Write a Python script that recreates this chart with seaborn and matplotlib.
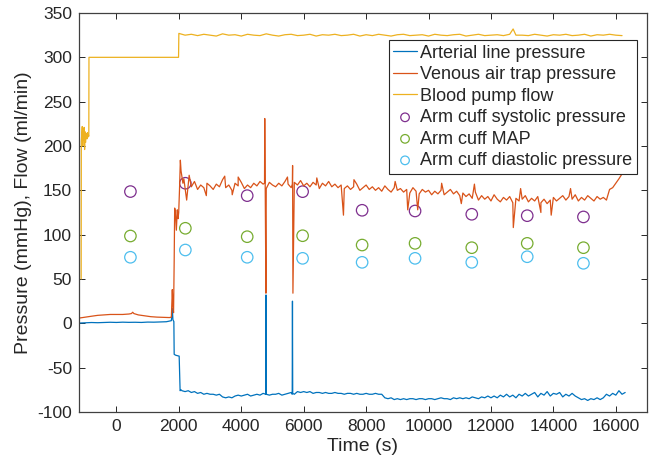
import numpy as np
import pandas as pd
import matplotlib
matplotlib.use("Agg")
import matplotlib.pyplot as plt
import seaborn as sns

# ---- arterial line pressure (mmHg), start-up part ----
art_t0 = [-1180, -1000, -800, -600, -400, -200, 0, 200, 400, 600, 800, 1000, 1200,
          1400, 1600, 1700, 1760, 1790, 1810, 1840, 1850, 1900, 1960, 2010, 2040, 2070]
art_v0 = [0.3, 0.6, 0.9, 0.7, 1.0, 1.2, 1.0, 1.3, 1.1, 1.2, 1.0, 1.4, 1.3,
          1.6, 1.8, 2.5, 3.0, 17.0, 4.0, 2.0, -35.0, -36.0, -36.5, -37.0, -76.0, -75.0]
# sampled every 100 s from 2100 to 16300
art_t1 = list(range(2100, 16301, 100))
art_v1 = [-76, -77, -76, -78, -77, -79, -78, -80, -79, -80,
          -80, -81, -80, -83, -84, -83, -84, -82, -81, -82,
          -81, -80, -82, -81, -80, -81, -79, -80, -81, -80,
          -80, -79, -81, -80, -79, -78, -80, -77, -78, -77,
          -78, -77, -79, -78, -78, -79, -78, -79, -79, -78,
          -79, -79, -80, -79, -79, -80, -79, -80, -80, -79,
          -80, -80, -79, -80, -80, -84, -85, -84, -86, -85,
          -86, -85, -86, -85, -85, -86, -85, -85, -86, -85,
          -85, -86, -85, -84, -85, -85, -86, -84, -85, -84,
          -85, -84, -85, -83, -84, -85, -83, -84, -82, -84,
          -82, -84, -81, -83, -80, -83, -81, -84, -80, -82,
          -79, -82, -80, -78, -83, -79, -81, -77, -82, -79,
          -80, -78, -83, -80, -82, -79, -82, -84, -86, -85,
          -87, -85, -86, -84, -86, -84, -80, -82, -79, -81,
          -76, -80, -78]
art_spk_t = [4785, 4792, 4798, 5632, 5640, 5648]
art_spk_v = [-80, 32, -79, -80, 25, -79]

# ---- venous air trap pressure (mmHg) ----
ven_t0 = [-1180, -1000, -800, -600, -400, -200, 0, 200, 400, 480, 520, 560, 700, 900,
          1100, 1300, 1500, 1700, 1760, 1790, 1810, 1830, 1850, 1866, 1890, 1920, 1950,
          1975, 1995, 2020, 2048, 2070, 2100, 2130, 2160]
ven_v0 = [6, 7, 8, 9, 9.5, 10, 10, 10, 10.5, 11, 12.5, 11, 9.5, 8.5,
          7.5, 7, 6.8, 6.5, 7, 38, 20, 12, 70, 130, 126, 105, 128,
          118, 125, 150, 184, 172, 165, 158, 163]
ven_t1 = list(range(2200, 16101, 100))
ven_v1 = [152, 157, 154, 160, 151, 156, 153, 158, 155, 151,
          157, 154, 162, 153, 156, 150, 158, 155, 159, 152,
          156, 153, 158, 155, 160, 157, 152, 159, 156, 154,
          158, 155, 160, 157, 153, 159, 156, 161, 155, 158,
          154, 159, 156, 152, 158, 155, 160, 154, 157, 153,
          156, 152, 155, 151, 154, 157, 150, 153, 156, 151,
          154, 150, 153, 149, 155, 151, 148, 153, 150, 152,
          148, 151, 147, 153, 149, 146, 151, 148, 150, 145,
          149, 146, 150, 145, 148, 151, 146, 149, 144, 147,
          143, 146, 141, 148, 139, 144, 140, 143, 138, 145,
          140, 137, 142, 139, 143, 136, 141, 138, 140, 144,
          137, 141, 138, 143, 136, 140, 135, 139, 142, 138,
          141, 144, 139, 143, 140, 145, 138, 142, 139, 144,
          141, 138, 143, 140, 142, 139, 151, 153, 158, 163]
ven_spk_t = [2250, 2330, 2880, 3470, 3710, 3900, 4745, 4752, 4790, 5480, 5636, 5644, 5655,
             6420, 7274, 7610, 8930, 9333, 9653, 10420, 11050, 11470, 12716, 12950,
             13600, 13930, 14550, 16190]
ven_spk_v = [139, 167, 144, 166, 145, 165, 158, 231, 34, 165, 157, 178, 34,
             164, 122, 162, 160, 128, 128, 158, 135, 157, 108, 152,
             125, 122, 152, 168]

# ---- blood pump flow (ml/min) ----
flow_t0 = [-1130, -1125, -1110, -1095, -1080, -1065, -1050, -1035, -1020, -1005, -990,
           -975, -960, -945, -930, -915, -900, -885, -880, 1990]
flow_v0 = [50, 205, 214, 222, 200, 218, 207, 221, 196, 216, 204,
           214, 211, 208, 215, 210, 212, 211, 300, 300]
flow_t1 = list(range(2000, 16201, 200))
flow_v1 = [327, 325, 326, 324.5, 326, 325, 324, 326.5, 325, 325.5,
           324, 326, 325, 324.5, 326.5, 325, 324, 325.5, 326, 324.5,
           325, 326, 324, 325.5, 325, 326, 324.5, 325, 326, 324,
           325.5, 324.5, 326, 325, 324, 325.5, 326, 324.5, 325, 325.5,
           324, 326, 325, 324.5, 325.5, 326, 324, 325, 326, 324.5,
           325, 325.5, 324.5, 326, 325, 325, 324.5, 326, 325, 324,
           325.5, 325, 326, 324.5, 325, 326, 324, 325.5, 325, 326,
           325, 324.5]
flow_spk_t = [12710]
flow_spk_v = [332]

# ---- arm cuff readings (mmHg) ----
cuff_time = [448, 2208, 4190, 5965, 7872, 9568, 11385, 13162, 14963]
cuff_sys = [148.6, 158, 144, 148.5, 127.5, 126.7, 123, 121.4, 120]
cuff_map = [98.5, 107.2, 97.7, 98.8, 88.3, 90.2, 85.3, 90.2, 85.3]
cuff_dia = [74.5, 82.7, 74.5, 73.3, 68.8, 73.3, 68.8, 75.1, 67.7]


def series(*parts):
    t, v = [], []
    for pt, pv in parts:
        t += list(pt)
        v += list(pv)
    return pd.DataFrame({"t": t, "v": v}).sort_values("t")


art = series((art_t0, art_v0), (art_t1, art_v1), (art_spk_t, art_spk_v))
ven = series((ven_t0, ven_v0), (ven_t1, ven_v1), (ven_spk_t, ven_spk_v))
flow = series((flow_t0, flow_v0), (flow_t1, flow_v1), (flow_spk_t, flow_spk_v))

sns.set_theme(style="ticks")
plt.rcParams["font.family"] = ["Liberation Sans", "DejaVu Sans"]
plt.rcParams["axes.unicode_minus"] = False

fig = plt.figure(figsize=(6.56, 4.66), dpi=100)
ax = fig.add_subplot(111)
fig.subplots_adjust(left=0.1204, right=0.9863, bottom=0.1159, top=0.9721)

lw = 0.9
sns.lineplot(data=art, x="t", y="v", ax=ax, color="#0072BD", lw=lw,
             estimator=None, sort=False, label="Arterial line pressure")
sns.lineplot(data=ven, x="t", y="v", ax=ax, color="#D95319", lw=lw,
             estimator=None, sort=False, label="Venous air trap pressure")
sns.lineplot(data=flow, x="t", y="v", ax=ax, color="#EDB120", lw=lw,
             estimator=None, sort=False, label="Blood pump flow")

for vals, col, lab in [(cuff_sys, "#7E2F8E", "Arm cuff systolic pressure"),
                       (cuff_map, "#77AC30", "Arm cuff MAP"),
                       (cuff_dia, "#4DBEEE", "Arm cuff diastolic pressure")]:
    sns.scatterplot(x=cuff_time, y=vals, ax=ax, marker="o", s=68,
                    facecolor="none", edgecolor=col, linewidth=0.9, label=lab)

ax.set_xlim(-1200, 17000)
ax.set_ylim(-100, 350)
ax.set_xticks(range(0, 16001, 2000))
ax.set_yticks(range(-100, 351, 50))
ax.set_xlabel("Time (s)", fontsize=14, color="#262626", labelpad=3)
ax.set_ylabel("Pressure (mmHg), Flow (ml/min)", fontsize=14, color="#262626", labelpad=4)
ax.tick_params(direction="in", top=True, right=True, length=4, width=0.7,
               labelsize=12.5, colors="#262626", pad=5)
for sp in ax.spines.values():
    sp.set_visible(True)
    sp.set_color("#404040")
    sp.set_linewidth(0.9)

leg = ax.legend(loc="upper right", bbox_to_anchor=(0.9824, 0.9323), borderaxespad=0,
                fontsize=13, frameon=True, fancybox=False, edgecolor="#262626",
                framealpha=1, handlelength=1.3, handletextpad=0.2, labelspacing=0.25,
                borderpad=0.25, markerscale=0.75)
leg.get_frame().set_linewidth(0.8)

fig.savefig("out.png", dpi=100)
